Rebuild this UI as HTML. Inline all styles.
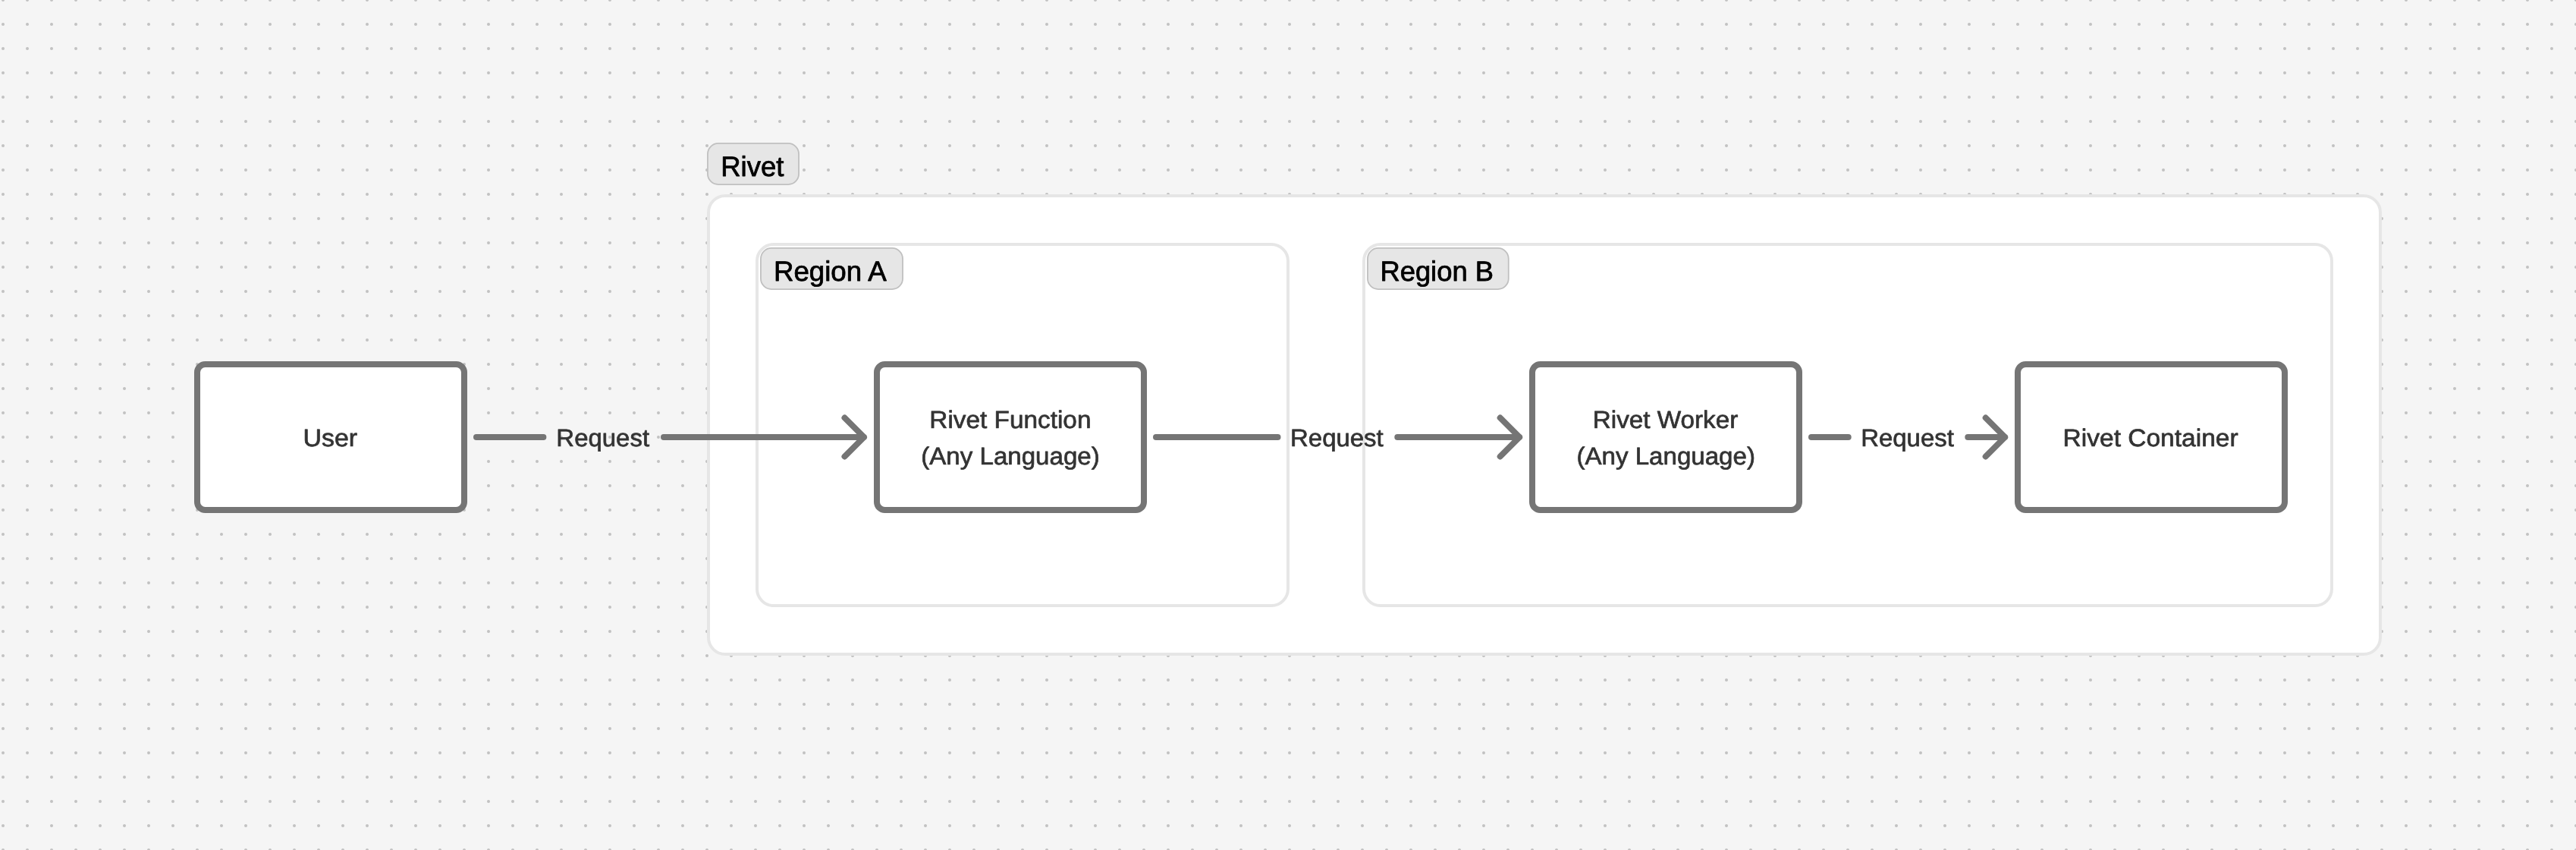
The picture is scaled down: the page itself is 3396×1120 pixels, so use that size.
<!DOCTYPE html>
<html lang="en">
<head>
<meta charset="utf-8">
<title>Rivet request flow</title>
<style>
  html, body { margin: 0; padding: 0; background: #f5f5f5; }
  body { width: 3396px; height: 1120px; overflow: hidden; }
  svg { display: block; will-change: transform; }
  text { font-family: "Liberation Sans", sans-serif; text-rendering: geometricPrecision; }
  .node { fill: #ffffff; stroke: #757575; stroke-width: 8; }
  .frame { fill: #ffffff; stroke: #e6e6e6; stroke-width: 4; }
  .tag { fill: #e6e6e6; stroke: #c0c0c0; stroke-width: 1.8; }
  .wire { fill: none; stroke: #757575; stroke-width: 8; stroke-linecap: round; stroke-linejoin: round; }
  .t { fill: #333333; font-size: 32.3px; text-anchor: middle; stroke: #333333; stroke-width: 0.7px; stroke-linejoin: round; }
  .h { fill: #000000; font-size: 37px; stroke: #000000; stroke-width: 0.8px; stroke-linejoin: round; }
</style>
</head>
<body>
<svg width="3396" height="1120" viewBox="0 0 3396 1120">
  <defs>
    <pattern id="dots" x="-12" y="-16" width="32" height="32" patternUnits="userSpaceOnUse">
      <circle cx="16" cy="16" r="2" fill="#c2c2c2"/>
    </pattern>
  </defs>

  <!-- canvas -->
  <rect x="0" y="0" width="3396" height="1120" fill="#f5f5f5"/>
  <rect x="0" y="0" width="3396" height="1120" fill="url(#dots)"/>

  <!-- Rivet section -->
  <rect class="frame" x="934" y="258" width="2204" height="604" rx="22"/>
  <rect class="tag" x="932.95" y="188.95" width="120.1" height="54.1" rx="14"/>
  <text class="h" x="950.2" y="232" textLength="83.2" lengthAdjust="spacingAndGlyphs">Rivet</text>

  <!-- Region A -->
  <rect class="frame" x="998" y="322" width="700" height="476" rx="22"/>
  <rect class="tag" x="1002.95" y="326.95" width="187.1" height="54.1" rx="14"/>
  <text class="h" x="1019.9" y="370" textLength="148.9" lengthAdjust="spacingAndGlyphs">Region A</text>

  <!-- Region B -->
  <rect class="frame" x="1798" y="322" width="1276" height="476" rx="22"/>
  <rect class="tag" x="1802.95" y="326.95" width="185.8" height="54.1" rx="14"/>
  <text class="h" x="1819.4" y="370" textLength="149.6" lengthAdjust="spacingAndGlyphs">Region B</text>

  <!-- connectors -->
  <path class="wire" d="M628 576H716.4"/>
  <path class="wire" d="M875 576H1139M1113.5 550.5L1139 576L1113.5 601.5"/>
  <text class="t" x="794.7" y="587.7" textLength="122.7" lengthAdjust="spacingAndGlyphs">Request</text>

  <path class="wire" d="M1524 576H1684.5"/>
  <path class="wire" d="M1842.3 576H2003.2M1977.7 550.5L2003.2 576L1977.7 601.5"/>
  <text class="t" x="1762.4" y="587.7" textLength="122.7" lengthAdjust="spacingAndGlyphs">Request</text>

  <path class="wire" d="M2388 576H2436.7"/>
  <path class="wire" d="M2594.3 576H2643.2M2617.7 550.5L2643.2 576L2617.7 601.5"/>
  <text class="t" x="2514.5" y="587.7" textLength="122.7" lengthAdjust="spacingAndGlyphs">Request</text>

  <!-- nodes -->
  <rect class="node" x="260" y="480" width="352" height="192" rx="10.6"/>
  <text class="t" x="435.3" y="587.7" textLength="71.6" lengthAdjust="spacingAndGlyphs">User</text>

  <rect class="node" x="1156" y="480" width="352" height="192" rx="10.6"/>
  <text class="t" x="1331.9" y="563.8" textLength="213.1" lengthAdjust="spacingAndGlyphs">Rivet Function</text>
  <text class="t" x="1332" y="611.8" textLength="235.5" lengthAdjust="spacingAndGlyphs">(Any Language)</text>

  <rect class="node" x="2020" y="480" width="352" height="192" rx="10.6"/>
  <text class="t" x="2195.5" y="563.8" textLength="191.5" lengthAdjust="spacingAndGlyphs">Rivet Worker</text>
  <text class="t" x="2196.2" y="611.8" textLength="235.5" lengthAdjust="spacingAndGlyphs">(Any Language)</text>

  <rect class="node" x="2660" y="480" width="352" height="192" rx="10.6"/>
  <text class="t" x="2835.1" y="587.7" textLength="231.1" lengthAdjust="spacingAndGlyphs">Rivet Container</text>
</svg>
</body>
</html>
